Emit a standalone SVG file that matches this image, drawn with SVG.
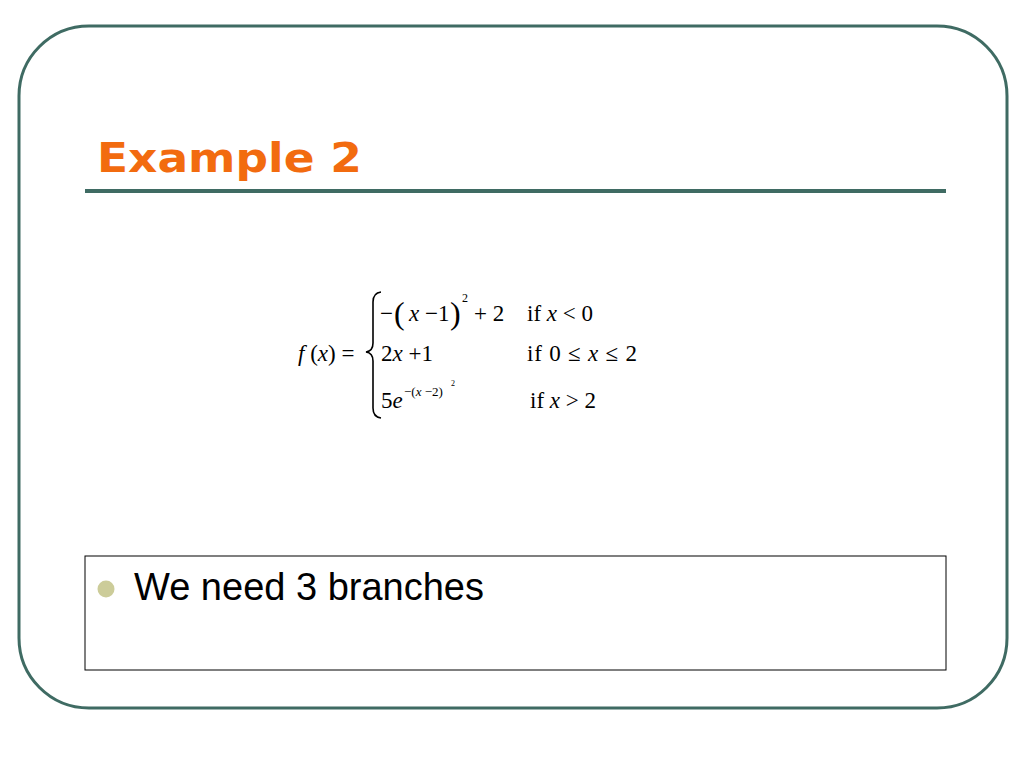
<svg xmlns="http://www.w3.org/2000/svg" width="1024" height="768" viewBox="0 0 1024 768">
<style>
.m{font-family:"Liberation Serif",serif;font-size:23px;fill:#000}
.i{font-style:italic}
</style>
<rect width="1024" height="768" fill="#fff"/>
<rect x="19" y="26" width="988" height="682" rx="70" fill="none" stroke="#3f6b63" stroke-width="3"/>
<g id="title"><text x="97" y="172" font-family="DejaVu Sans,sans-serif" font-weight="bold" font-size="41" fill="#f26b0f" textLength="265" lengthAdjust="spacingAndGlyphs">Example 2</text></g>
<line x1="85" y1="191" x2="946" y2="191" stroke="#3f6b63" stroke-width="4"/>
<g id="formula">
<text class="m" x="298" y="361"><tspan class="i">f</tspan> (<tspan class="i">x</tspan>) =</text>
<path d="M381,292 Q373,293 373,302 L373,343 Q373,351 366,352 Q373,353 373,361 L373,408 Q373,417 381,418" fill="none" stroke="#000" stroke-width="1.6"/>
<text class="m" x="380" y="321">−</text>
<text class="m" x="394" y="324" style="font-size:32px">(</text>
<text class="m" x="409" y="321"><tspan class="i">x</tspan> −1</text>
<text class="m" x="450" y="324" style="font-size:32px">)</text>
<text class="m" x="462" y="302" style="font-size:12px">2</text>
<text class="m" x="474" y="321">+ 2</text>
<text class="m" x="527" y="321">if <tspan class="i">x</tspan> &lt; 0</text>
<text class="m" x="381" y="361">2<tspan class="i">x</tspan> +1</text>
<text class="m" x="527" y="361" textLength="110">if 0 ≤ <tspan class="i">x</tspan> ≤ 2</text>
<text class="m" x="381" y="408">5<tspan class="i">e</tspan></text>
<text class="m" x="404" y="396" style="font-size:13px">−(<tspan class="i">x</tspan> −2)</text>
<text class="m" x="451" y="386" style="font-size:8px">2</text>
<text class="m" x="530" y="408">if <tspan class="i">x</tspan> &gt; 2</text>
</g>
<g id="box">
<rect x="85" y="556" width="861" height="114" fill="none" stroke="#000" stroke-width="1"/>
<circle cx="106" cy="589" r="8.5" fill="#cccc99"/>
<text x="134" y="600" font-family="Liberation Sans,sans-serif" font-size="38">We need 3 branches</text>
</g>
</svg>
